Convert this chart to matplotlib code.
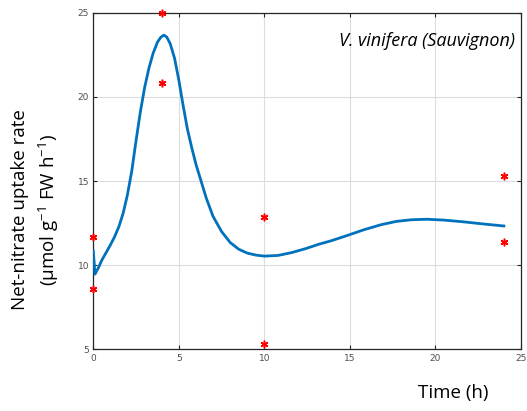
"""
Net-nitrate uptake rate of V. vinifera (Sauvignon) over time
"""
import matplotlib
matplotlib.use('Agg')
import matplotlib.pyplot as plt

plt.rcParams['mathtext.fontset'] = 'custom'
plt.rcParams['mathtext.rm'] = 'Open Sans'

# measured points (time in h, uptake rate)
obs_time = [0, 0, 4, 4, 10, 10, 24, 24]
obs_rate = [11.65, 8.6, 25.0, 20.85, 12.85, 5.3, 15.3, 11.35]

# fitted curve
fit_time = [0.0, 0.1, 0.3, 0.5, 0.75, 1.0, 1.25, 1.5, 1.75, 2.0, 2.25, 2.5, 2.75,
            3.0, 3.25, 3.5, 3.75, 3.95, 4.13, 4.3, 4.5, 4.75, 5.0, 5.25, 5.5,
            5.75, 6.0, 6.3, 6.6, 7.0, 7.5, 8.0, 8.5, 9.0, 9.5, 10.0, 10.8, 11.6,
            12.4, 13.2, 13.9, 14.8, 15.8, 16.8, 17.7, 18.6, 19.5, 20.5, 21.6,
            22.8, 24.0]
fit_rate = [10.86, 9.47, 9.85, 10.3, 10.75, 11.2, 11.7, 12.3, 13.1, 14.2, 15.6,
            17.4, 19.1, 20.55, 21.7, 22.6, 23.25, 23.55, 23.67, 23.55, 23.15,
            22.3, 21.0, 19.5, 18.1, 17.0, 16.0, 15.0, 14.0, 12.9, 12.0, 11.35,
            10.95, 10.72, 10.6, 10.54, 10.58, 10.75, 10.98, 11.25, 11.45, 11.75,
            12.1, 12.4, 12.6, 12.7, 12.73, 12.68, 12.58, 12.45, 12.33]

fig = plt.figure(figsize=(5.27, 4.11), dpi=100)
ax = fig.add_axes([0.177, 0.150, 0.8116, 0.819])

ax.plot(fit_time, fit_rate, color='#0072BD', lw=2, zorder=3)
ax.plot(obs_time, obs_rate, ls='none', marker=(6, 2, 0), ms=5.5, mew=1.1,
        color='red', zorder=4, clip_on=False)

ax.set_xlim(0, 25)
ax.set_ylim(5, 25)
ax.set_xticks([0, 5, 10, 15, 20, 25])
ax.set_yticks([5, 10, 15, 20, 25])

# matlab-like look
ax.grid(True, color='#dcdcdc', lw=0.8)
ax.set_axisbelow(True)
ax.tick_params(direction='in', length=3, width=0.8, labelsize=6.5,
               labelcolor='#4d4d4d', color='#262626', top=True, right=True, pad=3)
for s in ax.spines.values():
    s.set_color('#262626')
    s.set_linewidth(0.9)

ax.text(0.985, 0.915, 'V. vinifera (Sauvignon)', transform=ax.transAxes,
        ha='right', va='center', fontsize=13, style='italic', family='Open Sans')

fig.text(0.038, 0.49, 'Net-nitrate uptake rate', rotation=90, ha='center', va='center',
         fontsize=13.5, family='Open Sans')
fig.text(0.093, 0.49, '(µmol g$^{-1}$ FW h$^{-1}$)', rotation=90, ha='center',
         va='center', fontsize=13.5, family='Open Sans')
fig.text(0.86, 0.045, 'Time (h)', ha='center', va='center', fontsize=13.5,
         family='Open Sans')

plt.savefig('out.png', dpi=100)
